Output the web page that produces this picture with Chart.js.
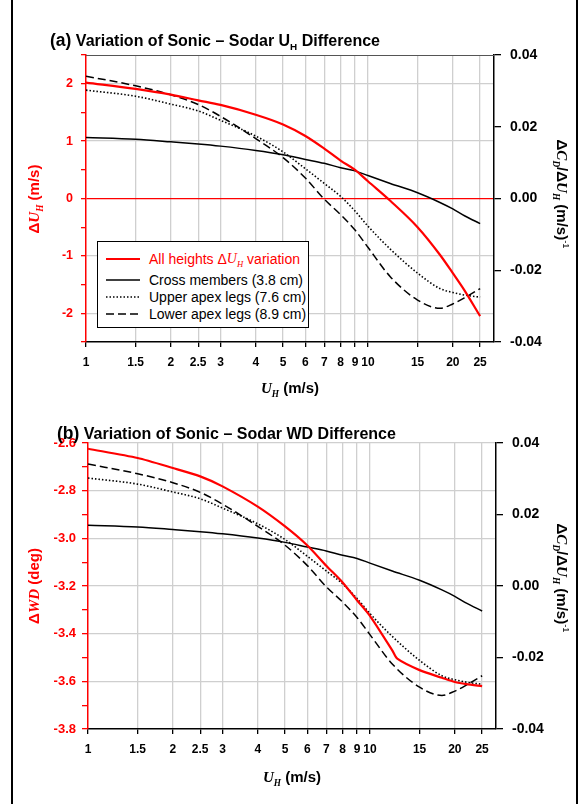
<!DOCTYPE html>
<html>
<head>
<meta charset="utf-8">
<script src="https://cdn.jsdelivr.net/npm/chart.js@4.4.1/dist/chart.umd.min.js"></script>
<style>
  body { margin: 0; background: #fff; }
  #page { position: relative; width: 586px; height: 804px; overflow: hidden; font-family: 'Liberation Sans', Arial, sans-serif; }
  .frame { position: absolute; top: 0; width: 2px; height: 804px; background: #000; }
  .box { position: absolute; left: 0; width: 586px; }
  .title { position: absolute; font-weight: bold; font-size: 16px; line-height: 1; white-space: nowrap; }
  .title .tag { font-size: 17.5px; }
  .ax { position: absolute; font-weight: bold; font-size: 15px; line-height: 1; white-space: nowrap; transform-origin: center; }
  .sym { font-family: 'Liberation Serif', serif; font-style: italic; }
  sub, sup { font-size: 0.62em; line-height: 0; }
  .legend { position: absolute; border: 1px solid #000; background: #fff; box-sizing: border-box; }
  .legend .row { position: absolute; left: 8px; height: 16px; display: flex; align-items: center; font-size: 14px; white-space: nowrap; }
  .legend svg { margin-right: 9px; }
</style>
</head>
<body>
<div id="page">
  <div class="frame" style="left:11px"></div>
  <div class="frame" style="left:576px"></div>

  <div class="box" style="top:0;height:400px"><canvas id="chartA"></canvas></div>
  <div class="box" style="top:400px;height:404px"><canvas id="chartB"></canvas></div>

  <div class="title" style="left:50px;top:32px"><span class="tag">(a)</span> Variation of Sonic – Sodar U<sub>H</sub> Difference</div>
  <div class="title" style="left:57px;top:425px"><span class="tag">(b)</span> Variation of Sonic – Sodar WD Difference</div>

  <div class="ax" style="left:34px;top:199px;color:#f00;transform:translate(-50%,-50%) rotate(-90deg)">Δ<span class="sym">U<sub>H</sub></span> (m/s)</div>
  <div class="ax" style="left:34px;top:586px;color:#f00;transform:translate(-50%,-50%) rotate(-90deg)">Δ<span class="sym">WD</span> (deg)</div>

  <div class="ax" style="left:562px;top:194px;transform:translate(-50%,-50%) rotate(90deg)">Δ<span class="sym">C<sub>D</sub></span>/Δ<span class="sym">U<sub>H</sub></span> (m/s)<sup style="font-weight:normal">-1</sup></div>
  <div class="ax" style="left:562px;top:578px;transform:translate(-50%,-50%) rotate(90deg)">Δ<span class="sym">C<sub>D</sub></span>/Δ<span class="sym">U<sub>H</sub></span> (m/s)<sup style="font-weight:normal">-1</sup></div>

  <div class="ax" style="left:290px;top:388px;transform:translate(-50%,-50%)"><span class="sym">U<sub>H</sub></span> (m/s)</div>
  <div class="ax" style="left:292px;top:777px;transform:translate(-50%,-50%)"><span class="sym">U<sub>H</sub></span> (m/s)</div>

  <div class="legend" style="left:97px;top:241px;width:212px;height:87px">
    <div class="row" style="top:9px;color:#f00"><svg width="34" height="4"><line x1="0" y1="2" x2="34" y2="2" stroke="#f00" stroke-width="2.2"/></svg>All heights Δ<span class="sym">U<sub>H</sub></span>&nbsp;variation</div>
    <div class="row" style="top:30px"><svg width="34" height="4"><line x1="0" y1="2" x2="34" y2="2" stroke="#000" stroke-width="1.5"/></svg>Cross members (3.8 cm)</div>
    <div class="row" style="top:47px"><svg width="34" height="4"><line x1="0" y1="2" x2="34" y2="2" stroke="#000" stroke-width="1.6" stroke-dasharray="1.5 2"/></svg>Upper apex legs (7.6 cm)</div>
    <div class="row" style="top:64px"><svg width="34" height="4"><line x1="0" y1="2" x2="34" y2="2" stroke="#000" stroke-width="1.5" stroke-dasharray="8 4"/></svg>Lower apex legs (8.9 cm)</div>
  </div>
</div>

<script>
// wind speed U_H (m/s) where the curves were read
const speeds = [1, 1.5, 2, 2.5, 3, 4, 5, 6, 7, 8, 9, 10, 12, 15, 18, 20, 22, 25];

// (a) sonic - sodar U_H difference, all heights (m/s)
const redUh = [2.02, 1.91, 1.81, 1.71, 1.63, 1.46, 1.29, 1.09, 0.87, 0.66, 0.50, 0.30, -0.04, -0.50, -0.98, -1.30, -1.60, -2.05];

// dC_D/dU_H per member, (m/s)^-1 - same curves in both panels
const crossMembers = [0.0170, 0.0165, 0.0158, 0.0152, 0.0146, 0.0134, 0.0122, 0.0109, 0.0098, 0.0086, 0.0077, 0.0064, 0.0042, 0.0016, -0.0011, -0.0029, -0.0048, -0.0070];
const upperApex = [0.0302, 0.0285, 0.0263, 0.0244, 0.0218, 0.0174, 0.0130, 0.0083, 0.0042, 0.0006, -0.0035, -0.0077, -0.0141, -0.0208, -0.0251, -0.0262, -0.0269, -0.0275];
const lowerApex = [0.0341, 0.0314, 0.0289, 0.0262, 0.0229, 0.0167, 0.0114, 0.0057, -0.0002, -0.0045, -0.0088, -0.0136, -0.0218, -0.0283, -0.0306, -0.0294, -0.0277, -0.0251];

// (b) sonic - sodar wind direction difference (deg)
const wdSpeeds = [1, 1.5, 2, 2.5, 3, 4, 5, 6, 7, 8, 9, 10, 12, 12.5, 15, 18, 20, 22, 25];
const redWd = [-2.624, -2.663, -2.705, -2.74, -2.782, -2.867, -2.95, -3.03, -3.115, -3.185, -3.26, -3.325, -3.47, -3.505, -3.553, -3.585, -3.603, -3.612, -3.62];

// axis ticks
const xTicks = [1, 1.5, 2, 2.5, 3, 4, 5, 6, 7, 8, 9, 10, 15, 20, 25];
const uhTicks = [-2.5, -2, -1.5, -1, -0.5, 0, 0.5, 1, 1.5, 2, 2.5];
const wdTicks = [-3.8, -3.7, -3.6, -3.5, -3.4, -3.3, -3.2, -3.1, -3.0, -2.9, -2.8, -2.7, -2.6];
const cdTicks = [-0.04, -0.02, 0, 0.02, 0.04];

const GRID = '#cfcfcf';
const RED = '#ff0000';
const FONT = 'Liberation Sans';

const pts = (xs, ys) => xs.map((x, i) => ({ x, y: ys[i] }));

// dark line along the top of the plot area
const topEdge = {
  id: 'topEdge',
  beforeDatasetsDraw(chart, args, opts) {
    if (!opts.color) return;
    const { ctx, chartArea: a } = chart;
    ctx.save();
    ctx.strokeStyle = opts.color;
    ctx.lineWidth = 1.2;
    ctx.beginPath();
    ctx.moveTo(a.left, a.top + 0.5);
    ctx.lineTo(a.right, a.top + 0.5);
    ctx.stroke();
    ctx.restore();
  }
};

function blackSets() {
  return [
    { data: pts(speeds, crossMembers), yAxisID: 'y1', borderColor: '#000', borderWidth: 1.5 },
    { data: pts(speeds, upperApex), yAxisID: 'y1', borderColor: '#000', borderWidth: 1.6, borderDash: [1.5, 2] },
    { data: pts(speeds, lowerApex), yAxisID: 'y1', borderColor: '#000', borderWidth: 1.5, borderDash: [8, 4] }
  ];
}

function makeChart(id, p) {
  return new Chart(document.getElementById(id), {
    type: 'line',
    data: { datasets: p.datasets },
    plugins: [topEdge],
    options: {
      animation: false,
      responsive: true,
      maintainAspectRatio: false,
      events: [],
      layout: { padding: { top: p.top, left: 0, right: 0, bottom: 0 } },
      elements: { point: { radius: 0 }, line: { cubicInterpolationMode: 'monotone', fill: false } },
      plugins: { legend: { display: false }, tooltip: { enabled: false }, topEdge: { color: p.topColor } },
      scales: {
        x: {
          type: 'logarithmic', min: 1, max: 28,
          afterBuildTicks: (s) => { s.ticks = xTicks.map(v => ({ value: v })); },
          afterFit: (s) => { s.height = p.xHeight; },
          ticks: { autoSkip: false, maxRotation: 0, padding: 8, color: '#000', font: { family: FONT, size: 12, weight: 'bold' }, callback: (v) => String(v) },
          grid: { color: (c) => (c.tick && c.tick.value === 1 ? 'rgba(0,0,0,0)' : GRID), lineWidth: 1.3, tickColor: '#000', tickLength: 5 },
          border: { color: '#000', width: 1.5 }
        },
        y: {
          position: 'left', min: p.yMin, max: p.yMax,
          afterBuildTicks: (s) => { s.ticks = p.yTicks.map(v => ({ value: v })); },
          afterFit: (s) => { s.width = p.leftW; },
          ticks: { padding: p.leftPad, color: RED, font: { family: FONT, size: p.leftSize, weight: 'bold' }, callback: p.yLabel },
          grid: { color: p.yGrid, lineWidth: 1.3, tickColor: RED, tickLength: p.leftTick },
          border: { color: RED, width: 1.5 }
        },
        y1: {
          position: 'right', min: -0.04, max: 0.04,
          afterBuildTicks: (s) => { s.ticks = cdTicks.map(v => ({ value: v })); },
          afterFit: (s) => { s.width = p.rightW; },
          ticks: { padding: 9, color: '#000', font: { family: FONT, size: 14, weight: 'bold' }, callback: (v) => v.toFixed(2) },
          grid: { drawOnChartArea: false, tickColor: '#000', tickLength: 7, lineWidth: 1.3 },
          border: { color: '#000', width: 1.5 }
        }
      }
    }
  });
}

makeChart('chartA', {
  top: 55, xHeight: 58, leftW: 86, rightW: 92, topColor: '#555',
  yMin: -2.5, yMax: 2.5, yTicks: uhTicks, leftPad: 8, leftTick: 5, leftSize: 12.5,
  yLabel: (v) => (Number.isInteger(v) ? String(v) : ''),
  yGrid: (c) => {
    const v = c.tick ? c.tick.value : null;
    if (v === 0) return RED;
    return Number.isInteger(v) ? GRID : 'rgba(0,0,0,0)';
  },
  datasets: [
    { data: pts(speeds, redUh), yAxisID: 'y', borderColor: RED, borderWidth: 2.2 },
    ...blackSets()
  ]
});

makeChart('chartB', {
  top: 43, xHeight: 75, leftW: 88, rightW: 90, topColor: null,
  yMin: -3.8, yMax: -2.6, yTicks: wdTicks, leftPad: 6, leftTick: 6, leftSize: 13,
  yLabel: (v) => (Math.round(v * 10) % 2 === 0 ? v.toFixed(1) : ''),
  yGrid: (c) => {
    const v = c.tick ? c.tick.value : null;
    if (v === null || v === -3.8) return 'rgba(0,0,0,0)';
    return Math.round(v * 10) % 2 === 0 ? GRID : 'rgba(0,0,0,0)';
  },
  datasets: [
    { data: pts(wdSpeeds, redWd), yAxisID: 'y', borderColor: RED, borderWidth: 2.2, cubicInterpolationMode: 'default', tension: 0.25 },
    ...blackSets()
  ]
});
</script>
</body>
</html>
